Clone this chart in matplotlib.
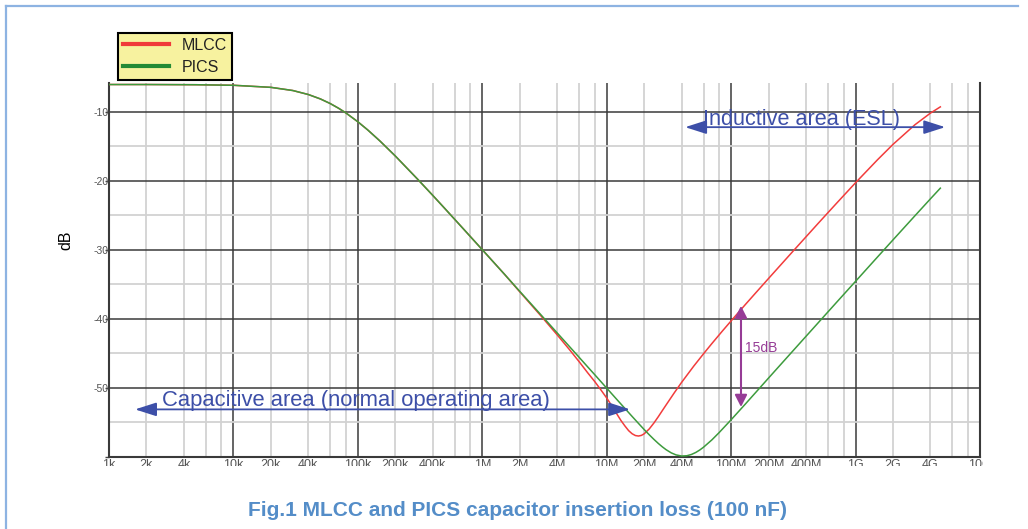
import numpy as np
import matplotlib
matplotlib.use("Agg")
import matplotlib.pyplot as plt
from matplotlib.lines import Line2D
from matplotlib.transforms import Bbox

plt.rcParams['font.family'] = ['Liberation Sans', 'DejaVu Sans']

# ---------------- data ----------------
# shared low-frequency part (both capacitors coincide)
freq_shared_hz = [1e3, 2e3, 5e3, 1e4, 2e4, 3e4, 4e4, 5e4, 6e4, 7e4, 8e4, 1e5,
                  1.2e5, 1.5e5, 2e5, 3e5, 4e5, 5e5, 7e5, 1e6, 1.5e6]
db_shared = [-6.02, -6.02, -6.05, -6.13, -6.43, -6.89, -7.47, -8.11, -8.78,
             -9.46, -10.13, -11.42, -12.60, -14.18, -16.38, -19.68, -22.09,
             -23.99, -26.88, -29.96, -33.47]

mlcc_freq_mhz = [2, 3, 4, 5, 6, 7, 8, 9, 10, 11, 12, 13, 14, 15, 16, 17, 18, 19,
                 20, 22, 24, 26, 28, 30, 35, 40, 50, 60, 70, 85, 100, 130, 160,
                 200, 300, 500, 700, 1000, 1500, 2000, 3000, 4000, 4800]
mlcc_db = [-36.06, -39.67, -42.30, -44.40, -46.18, -47.75, -49.05, -50.30,
           -51.45, -52.60, -53.70, -54.70, -55.50, -56.18, -56.63, -56.89,
           -56.96, -56.87, -56.64, -55.92, -55.05, -54.15, -53.27, -52.46,
           -50.67, -49.18, -46.84, -45.04, -43.56, -41.75, -40.27, -37.91,
           -36.08, -34.12, -30.58, -26.15, -23.27, -20.25, -16.93, -14.69,
           -11.85, -10.16, -9.26]

pics_freq_mhz = [2, 3, 4, 5, 6, 7, 8, 10, 12, 14, 16, 18, 20, 22, 24, 26, 28, 30,
                 33, 36, 40, 44, 48, 52, 56, 60, 70, 80, 100, 130, 160, 200, 300,
                 500, 700, 1000, 1500, 2000, 3000, 4000, 4800]
pics_db = [-35.99, -39.51, -42.02, -43.96, -45.55, -46.90, -48.06, -50.02,
           -51.62, -52.96, -54.12, -55.13, -56.02, -56.79, -57.46, -58.04,
           -58.53, -58.94, -59.40, -59.69, -59.86, -59.82, -59.63, -59.34,
           -58.98, -58.58, -57.52, -56.47, -54.60, -52.33, -50.51, -48.55,
           -45.01, -40.56, -37.63, -34.54, -31.02, -28.53, -25.04, -22.58,
           -21.04]

series_names = ["MLCC", "PICS"]

major_x = [1e3, 1e4, 1e5, 1e6, 1e7, 1e8, 1e9, 1e10]
major_x_labels = ["1k", "10k", "100k", "1M", "10M", "100M", "1G", "10G"]
minor_mult = [2, 4, 6, 8]
minor_suffix = ["k", "k", "k", "M", "M", "M", "G"]
major_y = [-60, -50, -40, -30, -20, -10]
major_y_labels = ["", "-50", "-40", "-30", "-20", "-10"]
minor_y = [-55, -45, -35, -25, -15]

# ---------------- figure ----------------
W, H = 1028, 529
fig = plt.figure(figsize=(W / 100, H / 100), dpi=100)
fig.patch.set_facecolor("white")

ax = fig.add_axes([109 / W, 1 - 457 / H, (980 - 109) / W, (457 - 83) / H])
ax.set_xscale("log")
ax.set_xlim(1e3, 1e10)
ax.set_ylim(-60, -5.8)

f_mlcc = np.concatenate([freq_shared_hz, np.array(mlcc_freq_mhz) * 1e6])
d_mlcc = np.concatenate([db_shared, mlcc_db])
f_pics = np.concatenate([freq_shared_hz, np.array(pics_freq_mhz) * 1e6])
d_pics = np.concatenate([db_shared, pics_db])

red = "#f23c3c"
green = "#3d9b3d"
ax.plot(f_mlcc, d_mlcc, color=red, lw=1.1, zorder=3)
ax.plot(f_pics, d_pics, color=green, lw=1.1, zorder=4)

# ticks / grid
ax.set_xticks(major_x)
ax.set_xticklabels(major_x_labels)
minor_pos, minor_lab = [], []
for dec, suf in zip(major_x[:-1], minor_suffix):
    for m in minor_mult:
        minor_pos.append(dec * m)
        base = dec / {"k": 1e3, "M": 1e6, "G": 1e9}[suf]
        val = int(round(base * m))
        minor_lab.append(f"{val}{suf}" if m in (2, 4) else "")
ax.set_xticks(minor_pos, minor=True)
ax.set_xticklabels(minor_lab, minor=True)
ax.set_yticks(major_y)
ax.set_yticklabels(major_y_labels)
ax.set_yticks(minor_y, minor=True)
ax.set_yticklabels([""] * len(minor_y), minor=True)

ax.grid(which="major", color="#3a3a3a", lw=1.1)
ax.grid(which="minor", color="#d2d2d2", lw=1.3)
ax.set_axisbelow(True)

ax.tick_params(axis="x", which="both", length=0, pad=1.2, labelsize=9,
               labelcolor="#555555")
ax.tick_params(axis="y", which="major", length=3, width=1, color="#444444",
               pad=-2.5, labelsize=7.5, labelcolor="#555555")
ax.tick_params(axis="y", which="minor", length=0)

ax.spines["top"].set_visible(False)
for s in ["left", "bottom", "right"]:
    ax.spines[s].set_color("#3a3a3a")
    ax.spines[s].set_linewidth(1.5)

# clip x tick labels (they appear cut in the reference)
clip = Bbox.from_extents(0, H - 466, 983, H - 455)
for lbl in ax.get_xticklabels() + ax.get_xticklabels(minor=True):
    lbl.set_clip_on(True)
    lbl.set_clip_box(clip)

# annotations
blue = "#3d4fa8"
purple = "#963c96"
ax.annotate("", xy=(1.54e7, -53.1), xytext=(1.62e3, -53.1),
            arrowprops=dict(arrowstyle="<|-|>,head_length=1.0,head_width=0.32",
                            mutation_scale=13, color=blue, lw=1.3,
                            shrinkA=0, shrinkB=0), zorder=6)
ax.text(2.67e3, -52.55, "Capacitive area (normal operating area)", color=blue,
        fontsize=15.8, ha="left", va="baseline", zorder=7)

ax.annotate("", xy=(5.25e9, -12.2), xytext=(4.27e7, -12.2),
            arrowprops=dict(arrowstyle="<|-|>,head_length=1.0,head_width=0.32",
                            mutation_scale=13, color=blue, lw=1.3,
                            shrinkA=0, shrinkB=0), zorder=6)
ax.text(5.96e7, -11.95, "Inductive area (ESL)", color=blue,
        fontsize=15.6, ha="left", va="baseline", zorder=7)

ax.annotate("", xy=(1.2e8, -38.1), xytext=(1.2e8, -52.75),
            arrowprops=dict(arrowstyle="<|-|>,head_length=0.55,head_width=0.28",
                            mutation_scale=13, color=purple, lw=1.5,
                            shrinkA=0, shrinkB=0), zorder=6)
ax.text(1.30e8, -44.2, "15dB", color=purple, fontsize=10, ha="left",
        va="center", zorder=7)

# legend
handles = [Line2D([], [], color="#f03a3a", lw=3),
           Line2D([], [], color="#238a35", lw=3)]
leg = ax.legend(handles, series_names, loc="upper left",
                bbox_to_anchor=(118 / W, 1 - 33 / H),
                bbox_transform=fig.transFigure, borderaxespad=0,
                fontsize=11.5, frameon=True, fancybox=False, framealpha=1,
                borderpad=0.3, labelspacing=0.45, handlelength=2.9,
                handletextpad=0.8)
leg.get_frame().set_facecolor("#f7f29f")
leg.get_frame().set_edgecolor("black")
leg.get_frame().set_linewidth(1.5)
leg.set_zorder(10)
for t in leg.get_texts():
    t.set_color("#222222")

# y label
fig.text(66 / W, 1 - 240 / H, "dB", rotation=90, ha="center", va="center",
         fontsize=11.5, color="black")

# title
fig.text(518 / W, 1 - 510 / H,
         "Fig.1 MLCC and PICS capacitor insertion loss (100 nF)",
         ha="center", va="center", fontsize=15, fontweight="bold",
         color="#548dc8")

# outer light-blue frame (top and left edges)
frame_c = "#8db3e2"
fig.add_artist(Line2D([6 / W, 1018 / W], [1 - 6 / H, 1 - 6 / H],
                      transform=fig.transFigure, color=frame_c, lw=1.6))
fig.add_artist(Line2D([6 / W, 6 / W], [0, 1 - 6 / H],
                      transform=fig.transFigure, color=frame_c, lw=1.6))

fig.savefig("out.png", dpi=100)
